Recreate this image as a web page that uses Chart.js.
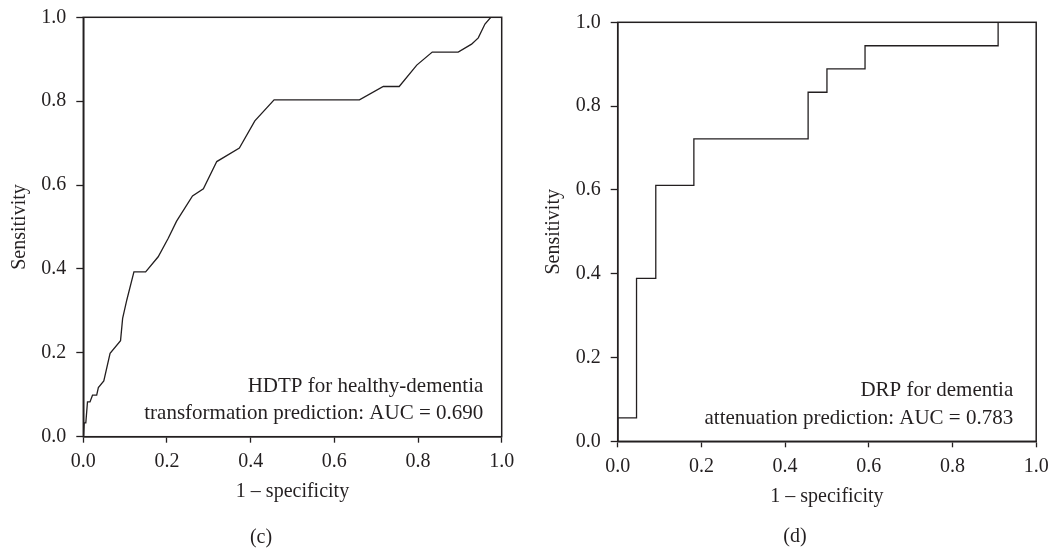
<!DOCTYPE html>
<html>
<head>
<meta charset="utf-8">
<script src="https://cdn.jsdelivr.net/npm/chart.js@4.4.1/dist/chart.umd.min.js"></script>
<style>
  html, body { margin: 0; padding: 0; background: #ffffff; }
  body { width: 1051px; height: 550px; position: relative; overflow: hidden; }
  canvas { position: absolute; top: 0; }
  #c1 { left: 0px; }
  #c2 { left: 534px; }
</style>
</head>
<body>
<canvas id="c1" width="534" height="550"></canvas>
<canvas id="c2" width="517" height="550"></canvas>
<script>
// ---- Data ----
// Panel (c): HDTP for healthy-dementia transformation prediction
const fprC = [0, 0.002, 0.006, 0.010, 0.016, 0.022, 0.032, 0.036, 0.049, 0.064, 0.089, 0.094, 0.104, 0.121, 0.149, 0.179, 0.203, 0.223, 0.261, 0.287, 0.319, 0.373, 0.410, 0.456, 0.660, 0.717, 0.755, 0.797, 0.834, 0.896, 0.928, 0.944, 0.960, 0.974, 1.0];
const tprC = [0, 0.033, 0.033, 0.083, 0.083, 0.099, 0.099, 0.117, 0.133, 0.199, 0.229, 0.282, 0.326, 0.393, 0.393, 0.429, 0.473, 0.514, 0.574, 0.591, 0.656, 0.688, 0.753, 0.803, 0.803, 0.835, 0.835, 0.886, 0.917, 0.917, 0.936, 0.951, 0.984, 1.0, 1.0];

// Panel (d): DRP for dementia attenuation prediction (step ROC)
const fprD = [0, 0, 0.045, 0.045, 0.091, 0.091, 0.182, 0.182, 0.455, 0.455, 0.500, 0.500, 0.591, 0.591, 0.909, 0.909, 1.0];
const tprD = [0, 0.056, 0.056, 0.389, 0.389, 0.611, 0.611, 0.722, 0.722, 0.833, 0.833, 0.889, 0.889, 0.944, 0.944, 1.0, 1.0];

const tickValues = [0, 0.2, 0.4, 0.6, 0.8, 1.0];
const xTitle = '1 \u2013 specificity';
const yTitle = 'Sensitivity';
const noteC = ['HDTP for healthy-dementia', 'transformation prediction: AUC = 0.690'];
const noteD = ['DRP for dementia', 'attenuation prediction: AUC = 0.783'];
const labelC = '(c)';
const labelD = '(d)';

// ---- Styling ----
const INK = '#231f20';
const FONT = '"Liberation Serif", "DejaVu Serif", serif';

const panelPlugin = {
  id: 'panel',
  afterDraw(chart, args, opts) {
    const { ctx, chartArea: a } = chart;
    ctx.save();
    ctx.strokeStyle = INK;
    ctx.lineWidth = 1.5;
    ctx.strokeRect(a.left, a.top, a.right - a.left, a.bottom - a.top);
    ctx.fillStyle = INK;
    ctx.font = '21px ' + FONT;
    ctx.textAlign = 'right';
    ctx.textBaseline = 'alphabetic';
    ctx.fillText(opts.note[0], a.right - opts.noteRight, a.bottom - 45);
    ctx.fillText(opts.note[1], a.right - opts.noteRight, a.bottom - 17.5);
    ctx.font = '20px ' + FONT;
    ctx.textAlign = 'center';
    ctx.textBaseline = 'middle';
    ctx.fillText(opts.label, opts.labelX, opts.labelY);
    ctx.restore();
  }
};

function makeChart(canvasId, fpr, tpr, cfg) {
  const pts = fpr.map((x, i) => ({ x: x, y: tpr[i] }));
  return new Chart(document.getElementById(canvasId), {
    type: 'scatter',
    data: {
      datasets: [{
        data: pts,
        showLine: true,
        borderColor: INK,
        borderWidth: 1.3,
        pointRadius: 0,
        tension: 0,
        fill: false
      }]
    },
    options: {
      responsive: false,
      animation: false,
      devicePixelRatio: 1,
      layout: { padding: { top: cfg.top, right: cfg.right, left: 0, bottom: 0 } },
      plugins: {
        legend: { display: false },
        tooltip: { enabled: false },
        panel: cfg.panel
      },
      scales: {
        x: {
          type: 'linear', min: 0, max: 1,
          afterBuildTicks: (s) => { s.ticks = tickValues.map(v => ({ value: v })); },
          afterFit: (s) => { s.height = cfg.xHeight; s.paddingLeft = 0; s.paddingRight = 0; },
          ticks: {
            color: INK, font: { family: FONT, size: 20 }, padding: 7,
            maxRotation: 0, autoSkip: false,
            callback: (v) => Number(v).toFixed(1)
          },
          grid: { drawOnChartArea: false, drawTicks: true, tickLength: 6, tickColor: INK, tickWidth: 1.3 },
          border: { display: true, color: INK, width: 1.5 },
          title: {
            display: true, text: xTitle, color: INK,
            font: { family: FONT, size: 20, lineHeight: 1.2 },
            padding: { top: 0, bottom: cfg.xTitlePad }
          }
        },
        y: {
          type: 'linear', min: 0, max: 1,
          afterBuildTicks: (s) => { s.ticks = tickValues.map(v => ({ value: v })); },
          afterFit: (s) => { s.width = cfg.yWidth; s.paddingTop = 0; s.paddingBottom = 0; },
          ticks: {
            color: INK, font: { family: FONT, size: 20 }, padding: 10,
            autoSkip: false,
            callback: (v) => Number(v).toFixed(1)
          },
          grid: { drawOnChartArea: false, drawTicks: true, tickLength: 7, tickColor: INK, tickWidth: 1.3 },
          border: { display: true, color: INK, width: 1.5 },
          title: {
            display: true, text: yTitle, color: INK,
            font: { family: FONT, size: 20, lineHeight: 1.2 },
            padding: { top: 8, bottom: 0 }
          }
        }
      }
    },
    plugins: [panelPlugin]
  });
}

makeChart('c1', fprC, tprC, {
  top: 17.3, right: 32.3, yWidth: 83.3, xHeight: 113.3, xTitlePad: 46.3,
  panel: { note: noteC, noteRight: 18.4, label: labelC, labelX: 261, labelY: 538 }
});
makeChart('c2', fprD, tprD, {
  top: 22.3, right: 14.8, yWidth: 83.7, xHeight: 108.7, xTitlePad: 41.7,
  panel: { note: noteD, noteRight: 23, label: labelD, labelX: 261, labelY: 537 }
});
</script>
</body>
</html>
